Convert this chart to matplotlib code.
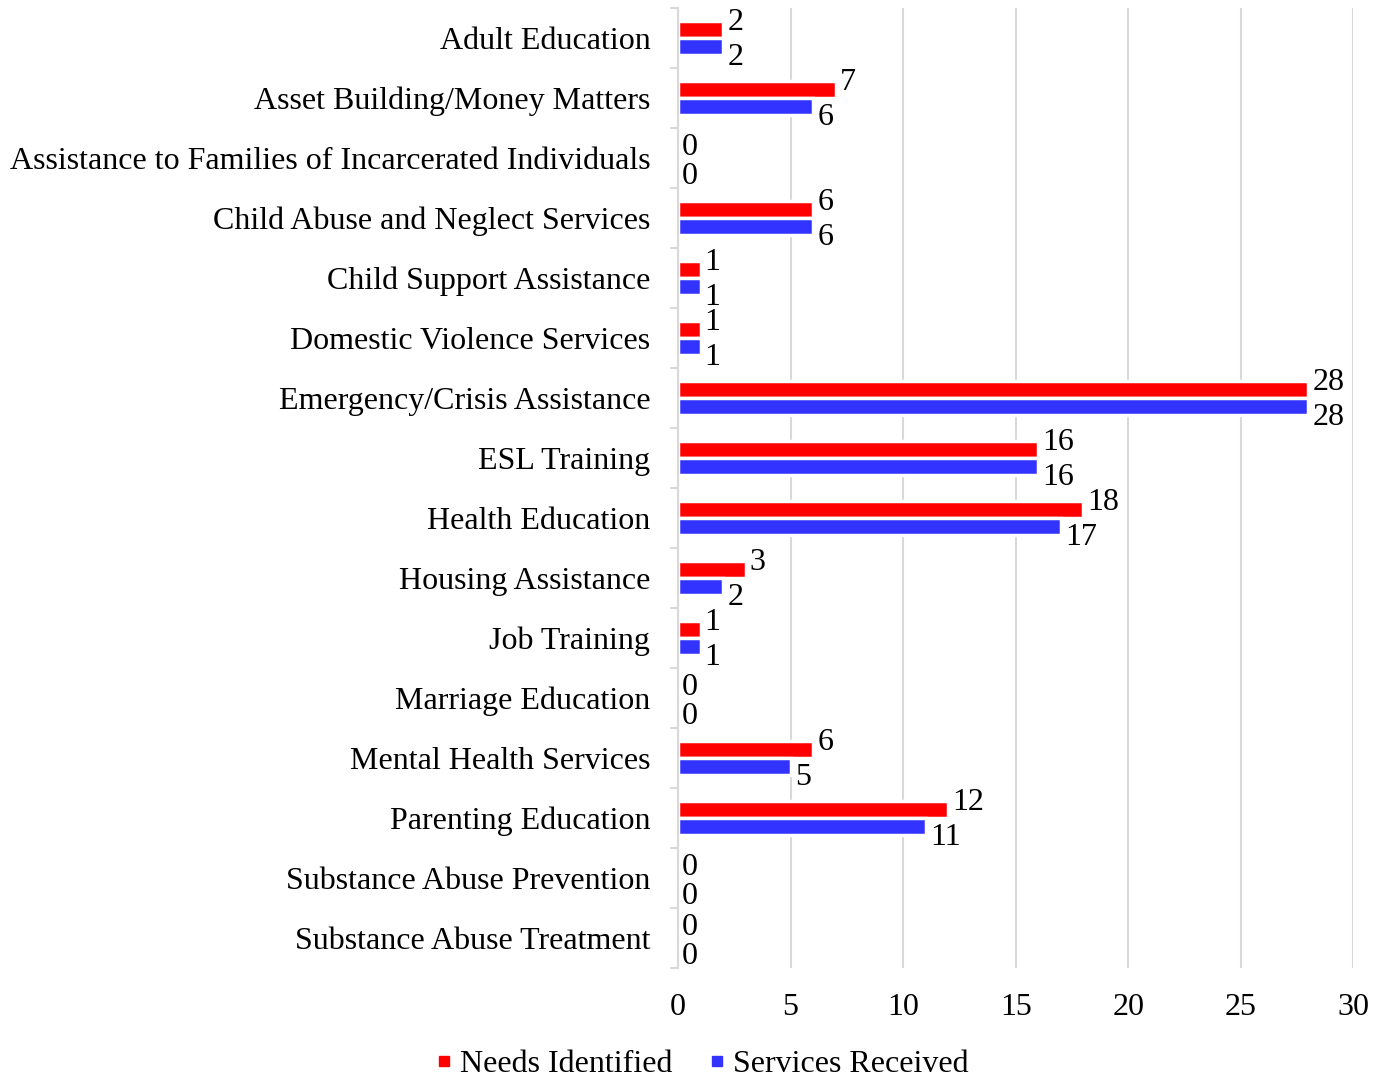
import matplotlib
matplotlib.use("Agg")
import matplotlib.pyplot as plt
from matplotlib.lines import Line2D
import numpy as np

categories = [
    "Adult Education",
    "Asset Building/Money Matters",
    "Assistance to Families of Incarcerated Individuals",
    "Child Abuse and Neglect Services",
    "Child Support Assistance",
    "Domestic Violence Services",
    "Emergency/Crisis Assistance",
    "ESL Training",
    "Health Education",
    "Housing Assistance",
    "Job Training",
    "Marriage Education",
    "Mental Health Services",
    "Parenting Education",
    "Substance Abuse Prevention",
    "Substance Abuse Treatment",
]
needs_identified = [2, 7, 0, 6, 1, 1, 28, 16, 18, 3, 1, 0, 6, 12, 0, 0]
services_received = [2, 6, 0, 6, 1, 1, 28, 16, 17, 2, 1, 0, 5, 11, 0, 0]
x_ticks = [0, 5, 10, 15, 20, 25, 30]

RED = "#FF0000"
BLUE = "#3333FF"
GRID = "#D9D9D9"

plt.rcParams["font.family"] = ["Liberation Serif", "DejaVu Serif"]
FS = 23

fig = plt.figure(figsize=(13.81, 10.80), dpi=100)
ax = fig.add_axes([0.491, 0.1037, 0.98 - 0.491, 0.9926 - 0.1037])

y = np.arange(len(categories))
off = 0.142
h = 0.275

ax.barh(y - off, needs_identified, height=h, color=RED, edgecolor="white",
        linewidth=2.5, zorder=2)
ax.barh(y + off, services_received, height=h, color=BLUE, edgecolor="white",
        linewidth=2.5, zorder=2)

# value labels: red ones sit slightly above their bar, blue ones slightly below;
# labels of empty bars are pulled a little closer to the row centre
for yi, v in zip(y, needs_identified):
    dy = 5 if v else 1.5
    ax.annotate(str(v), (v, yi - off), xytext=(3, dy), textcoords="offset points",
                ha="left", va="center", fontsize=FS, color="black", zorder=3)
for yi, v in zip(y, services_received):
    dy = -8 if v else -7
    ax.annotate(str(v), (v, yi + off), xytext=(3, dy), textcoords="offset points",
                ha="left", va="center", fontsize=FS, color="black", zorder=3)

ax.set_xlim(0, 30)
ax.set_ylim(len(categories) - 0.5, -0.5)
ax.set_xticks(x_ticks)
ax.set_xticklabels([str(t) for t in x_ticks], fontsize=FS)
ax.set_yticks(y)
ax.set_yticklabels(categories, fontsize=FS)
ax.set_yticks(np.arange(len(categories) + 1) - 0.5, minor=True)

ax.tick_params(axis="x", length=0, pad=18)
ax.tick_params(axis="y", which="major", length=0, pad=20)
ax.tick_params(axis="y", which="minor", length=6, width=1.5, color=GRID, direction="out")

ax.grid(axis="x", color=GRID, linewidth=1.5, zorder=0)
ax.set_axisbelow(True)
for s in ["top", "right", "bottom"]:
    ax.spines[s].set_visible(False)
ax.spines["left"].set_color(GRID)
ax.spines["left"].set_linewidth(1.5)

handles = [
    Line2D([], [], marker="s", linestyle="none", markersize=7, color=RED),
    Line2D([], [], marker="s", linestyle="none", markersize=7, color=BLUE),
]
fig.legend(handles, ["Needs Identified", "Services Received"], loc="lower center",
           bbox_to_anchor=(0.508, -0.026), ncol=2, frameon=False, fontsize=FS,
           handlelength=0.6, handletextpad=0.2, columnspacing=1.1)

fig.savefig("out.png", dpi=100, facecolor="white")
